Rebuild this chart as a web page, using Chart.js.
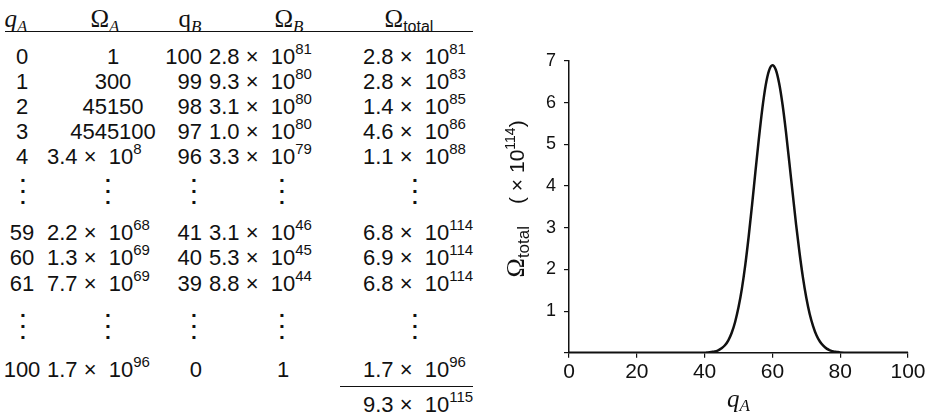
<!DOCTYPE html>
<html>
<head>
<meta charset="utf-8">
<script src="https://cdn.jsdelivr.net/npm/chart.js@4.4.1/dist/chart.umd.min.js"></script>
<style>
  html, body { margin: 0; padding: 0; background: #fff; }
  body { width: 928px; height: 418px; position: relative; overflow: hidden;
         font-family: "Liberation Sans", Arial, sans-serif; color: #111; }
  #table { position: absolute; left: 0; top: 0; width: 480px; height: 418px; font-size: 22px; }
  .cell { position: absolute; white-space: nowrap; line-height: 26px; height: 26px; }
  .cell sup { font-size: 15px; vertical-align: baseline; position: relative; top: -10px; }
  .head { font-family: "Liberation Serif", serif; font-size: 25px; }
  .head i { font-style: italic; }
  .head sub { font-size: 17px; vertical-align: baseline; position: relative; top: 5px; }
  .head sub.sans { font-family: "Liberation Sans", Arial, sans-serif; font-size: 16px; }
  .dots { font-size: 21px; line-height: 11px; height: 33px; font-weight: bold; }
  .rule { position: absolute; border-top: 1.5px solid #111; height: 0; }
  #chartBox { position: absolute; left: 470px; top: 0; width: 458px; height: 418px; }
</style>
</head>
<body>
<div id="table"></div>
<div id="chartBox"><canvas id="omegaChart" width="458" height="418"></canvas></div>
<script>
// Table columns (null = vertical ellipsis row), "mEx" = m × 10^x
const qAList = ['0', '1', '2', '3', '4', null, '59', '60', '61', null, '100'];
const omegaAList = ['1', '300', '45150', '4545100', '3.4e8', null, '2.2e68', '1.3e69', '7.7e69', null, '1.7e96'];
const qBList = ['100', '99', '98', '97', '96', null, '41', '40', '39', null, '0'];
const omegaBList = ['2.8e81', '9.3e80', '3.1e80', '1.0e80', '3.3e79', null, '3.1e46', '5.3e45', '8.8e44', null, '1'];
const omegaTotalList = ['2.8e81', '2.8e83', '1.4e85', '4.6e86', '1.1e88', null, '6.8e114', '6.9e114', '6.8e114', null, '1.7e96'];
const omegaSum = '9.3e115';

// Curve: Omega_total in units of 10^114
const qA = [0, 10, 20, 30, 36, 40, 41, 42, 43, 44, 45, 46, 47, 48, 49, 50, 51, 52, 53, 54, 55, 56, 57, 58, 59,
            60, 61, 62, 63, 64, 65, 66, 67, 68, 69, 70, 71, 72, 73, 74, 75, 76, 77, 78, 79, 80, 82, 86, 90, 100];
const omegaTotal = [0, 0, 0, 0, 0, 0.00, 0.01, 0.02, 0.03, 0.06, 0.11, 0.18, 0.30, 0.48, 0.74, 1.09, 1.54, 2.11, 2.79, 3.55, 4.35, 5.13, 5.84, 6.41, 6.77,
                    6.90, 6.79, 6.46, 5.95, 5.30, 4.56, 3.81, 3.07, 2.40, 1.81, 1.32, 0.93, 0.64, 0.42, 0.27, 0.17, 0.10, 0.06, 0.03, 0.02, 0.01, 0, 0, 0, 0];
const xTickStep = 20;
const yTickStep = 1;

// ---- table layout ----
const rowCenters = [57, 82, 107, 132, 157, 195, 233, 258, 284, 330, 370];
const cols = [
    { list: qAList, plain: ['center', 22], sci: ['center', 22], dots: 23 },
    { list: omegaAList, plain: ['center', 113], sci: ['left', 47], dots: 108 },
    { list: qBList, plain: ['right', 202], sci: ['right', 202], dots: 194 },
    { list: omegaBList, plain: ['center', 283], sci: ['left', 209], dots: 282 },
    { list: omegaTotalList, plain: ['center', 410], sci: ['left', 363], dots: 415 },
];
const headers = [
    ['<i>q</i><sub><i>A</i></sub>', 16],
    ['Ω<sub><i>A</i></sub>', 105],
    ['q<sub><i>B</i></sub>', 190],
    ['Ω<sub><i>B</i></sub>', 289],
    ['Ω<sub class="sans">total</sub>', 409],
];

const table = document.getElementById('table');

function fmt(v) {
    if (v.includes('e')) {
        const [m, e] = v.split('e');
        return `${m} × &nbsp;10<sup>${e}</sup>`;
    }
    return v;
}

function place(html, align, x, yc, cls, h) {
    const d = document.createElement('div');
    d.className = 'cell' + (cls ? ' ' + cls : '');
    d.innerHTML = html;
    d.style.left = x + 'px';
    d.style.top = (yc - (h || 26) / 2) + 'px';
    if (align === 'center') d.style.transform = 'translateX(-50%)';
    if (align === 'right') d.style.transform = 'translateX(-100%)';
    table.appendChild(d);
}

function rule(x1, x2, y) {
    const d = document.createElement('div');
    d.className = 'rule';
    d.style.left = x1 + 'px';
    d.style.width = (x2 - x1) + 'px';
    d.style.top = y + 'px';
    table.appendChild(d);
}

headers.forEach(([html, x]) => place(html, 'center', x, 19, 'head'));
rule(5, 473, 31);

cols.forEach(col => {
    col.list.forEach((v, i) => {
        const yc = rowCenters[i];
        if (v === null) {
            place('.<br>.<br>.', 'center', col.dots, yc - 10, 'dots', 33);
        } else if (v.includes('e')) {
            place(fmt(v), col.sci[0], col.sci[1], yc);
        } else {
            place(v, col.plain[0], col.plain[1], yc);
        }
    });
});
rule(340, 473, 386);
place(fmt(omegaSum), 'left', 363, 405);

// ---- chart ----
// axis titles with sub/superscripts, placed from the chart's scales
const axisTitles = {
    id: 'axisTitles',
    afterDraw(chart) {
        const { ctx, chartArea, scales } = chart;
        ctx.save();
        ctx.fillStyle = '#111';
        ctx.textBaseline = 'alphabetic';

        // x title: q_A
        ctx.font = 'italic 25px "Liberation Serif"';
        const wq = ctx.measureText('q').width;
        ctx.font = 'italic 17px "Liberation Serif"';
        const wa = ctx.measureText('A').width;
        const x = (chartArea.left + chartArea.right) / 2 - (wq + wa) / 2;
        const base = scales.x.bottom + 20;
        ctx.font = 'italic 25px "Liberation Serif"';
        ctx.fillText('q', x, base);
        ctx.font = 'italic 17px "Liberation Serif"';
        ctx.fillText('A', x + wq, base + 4);

        // y title: Omega_total (x 10^114), rotated
        const parts = [
            { t: 'Ω', f: '26px "Liberation Serif"', dy: 0 },
            { t: 'total', f: '17px "Liberation Sans"', dy: 5 },
            { t: '', f: '21px "Liberation Sans"', dy: 0, gap: 22 },
            { t: '( × 10', f: '21px "Liberation Sans"', dy: 0 },
            { t: '114', f: '14px "Liberation Sans"', dy: -9 },
            { t: ')', f: '21px "Liberation Sans"', dy: 0 },
        ];
        let total = 0;
        parts.forEach(p => {
            ctx.font = p.f;
            p.w = p.gap || ctx.measureText(p.t).width;
            total += p.w;
        });
        const yc = (chartArea.top + chartArea.bottom) / 2 - 8;
        const bx = chartArea.left - 45;
        ctx.translate(bx, yc);
        ctx.rotate(-Math.PI / 2);
        let pos = -total / 2;
        parts.forEach(p => {
            ctx.font = p.f;
            if (p.t) ctx.fillText(p.t, pos, p.dy);
            pos += p.w;
        });
        ctx.restore();
    }
};

new Chart(document.getElementById('omegaChart'), {
    type: 'line',
    data: {
        datasets: [{
            data: qA.map((q, i) => ({ x: q, y: omegaTotal[i] })),
            borderColor: '#111',
            borderWidth: 2.5,
            pointRadius: 0,
            cubicInterpolationMode: 'monotone',
            fill: false,
        }],
    },
    options: {
        responsive: false,
        animation: false,
        devicePixelRatio: 1,
        layout: { padding: { left: 68, right: 20, top: 61, bottom: 31 } },
        plugins: { legend: { display: false }, tooltip: { enabled: false } },
        scales: {
            x: {
                type: 'linear',
                min: 0,
                max: 100,
                ticks: { stepSize: xTickStep, color: '#111', padding: 2,
                         font: { family: 'Liberation Sans', size: 21 }, maxRotation: 0 },
                grid: { drawOnChartArea: false, drawTicks: true, tickLength: 5, color: '#111', lineWidth: 1.2 },
                border: { display: true, color: '#111', width: 1.5 },
            },
            y: {
                type: 'linear',
                min: 0,
                max: 7,
                ticks: { stepSize: yTickStep, color: '#111', padding: 8,
                         font: { family: 'Liberation Sans', size: 18 },
                         callback: v => (v === 0 ? '' : v) },
                grid: { drawOnChartArea: false, drawTicks: true, tickLength: 5, color: '#111', lineWidth: 1.2 },
                border: { display: true, color: '#111', width: 1.5 },
            },
        },
    },
    plugins: [axisTitles],
});
</script>
</body>
</html>
